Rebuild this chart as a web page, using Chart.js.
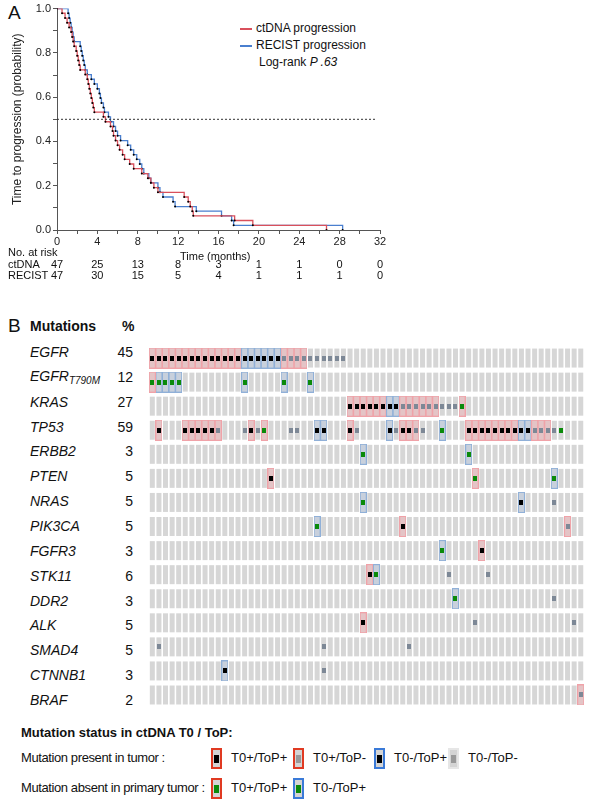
<!DOCTYPE html>
<html>
<head>
<meta charset="utf-8">
<script src="https://cdn.jsdelivr.net/npm/chart.js@4"></script>
<style>
  body { margin: 0; width: 590px; height: 800px; position: relative; font-family: "Liberation Sans", Arial, sans-serif; background: #fff; color: #111; }
  .t { position: absolute; white-space: nowrap; font-size: 11px; }
  .c { transform: translateX(-50%); }
  .s { font-size: 13px; }
  .n { letter-spacing: -0.4px; }
  canvas { position: absolute; }
  .gene { position: absolute; left: 30px; font-size: 14px; font-style: italic; transform: translateY(-50%); }
  .pct { position: absolute; left: 100px; width: 33px; text-align: right; font-size: 14px; transform: translateY(-50%); }
  .lg { position: absolute; width: 7px; height: 17px; background: #d4d4d4; border: 2px solid; }
  .lg i { position: absolute; left: 1px; top: 5px; width: 5px; height: 8px; }
</style>
</head>
<body>
<div class="t" style="left:8px;top:2px;font-size:19px">A</div>
<div class="t" style="left:8px;top:315px;font-size:19px">B</div>
<div class="t" style="left:240px;top:28px;width:12px;height:2px;background:#d9505c;font-size:0"></div>
<div class="t" style="left:240px;top:45px;width:12px;height:2px;background:#4a7fcf;font-size:0"></div>
<div class="t" style="left:256px;top:21px;font-size:12px">ctDNA progression</div>
<div class="t" style="left:256px;top:38px;font-size:12px">RECIST progression</div>
<div class="t" style="left:259px;top:55px;font-size:12px">Log-rank <i>P .63</i></div>
<canvas id="km" width="400" height="250" style="left:0;top:0;width:400px;height:250px"></canvas>
<div id="risk"></div>
<canvas id="onco" width="447" height="373" style="left:143px;top:340px;width:447px;height:373px"></canvas>
<div class="t" style="left:30px;top:318px;font-size:14px;font-weight:bold">Mutations</div>
<div class="t" style="left:122px;top:318px;font-size:14px;font-weight:bold">%</div>
<div id="labels"></div>
<div class="t" style="left:21px;top:725px;font-size:13px;font-weight:bold">Mutation status in ctDNA T0 / ToP:</div>
<div class="t s n" style="left:21px;top:750px">Mutation present in tumor :</div>
<div class="t s n" style="left:21px;top:780px">Mutation absent in primary tumor :</div>
<div class="lg" style="left:211px;top:748px;border-color:#e03a22"><i style="background:#000"></i></div>
<div class="t s" style="left:231px;top:750px">T0+/ToP+</div>
<div class="lg" style="left:293px;top:748px;border-color:#e03a22"><i style="background:#999"></i></div>
<div class="t s" style="left:313px;top:750px">T0+/ToP-</div>
<div class="lg" style="left:374px;top:748px;border-color:#3a7ad8"><i style="background:#000"></i></div>
<div class="t s" style="left:394px;top:750px">T0-/ToP+</div>
<div class="lg" style="left:448px;top:748px;border-color:#e6e6e6"><i style="background:#999"></i></div>
<div class="t s" style="left:468px;top:750px">T0-/ToP-</div>
<div class="lg" style="left:211px;top:778px;border-color:#e03a22"><i style="background:#0a8a0a"></i></div>
<div class="t s" style="left:231px;top:780px">T0+/ToP+</div>
<div class="lg" style="left:293px;top:778px;border-color:#3a7ad8"><i style="background:#0a8a0a"></i></div>
<div class="t s" style="left:313px;top:780px">T0-/ToP+</div>
<script>
// Kaplan-Meier steps (months, probability)
const ctdnaT = [0, 0.5, 0.8, 1.0, 1.2, 1.4, 1.5, 1.6, 1.7, 1.9, 2.0, 2.1, 2.2, 2.3, 2.8, 3.0, 3.1, 3.2, 3.3, 3.4, 3.5, 3.6, 3.7, 4.6, 4.8, 5.3, 5.5, 5.6, 5.8, 6.0, 6.2, 6.5, 6.7, 7.2, 7.6, 8.4, 9.0, 9.3, 9.6, 10.0, 12.6, 13.0, 13.2, 13.4, 13.5, 17.6, 19.4, 26.7];
const ctdnaS = [1, 0.979, 0.957, 0.936, 0.915, 0.894, 0.872, 0.851, 0.830, 0.809, 0.787, 0.766, 0.745, 0.723, 0.702, 0.681, 0.660, 0.638, 0.617, 0.596, 0.574, 0.553, 0.532, 0.511, 0.489, 0.468, 0.447, 0.426, 0.404, 0.383, 0.362, 0.340, 0.319, 0.298, 0.277, 0.255, 0.234, 0.213, 0.191, 0.170, 0.149, 0.128, 0.106, 0.085, 0.064, 0.043, 0.021, 0];
const recistT = [0, 1.1, 1.2, 1.3, 1.4, 1.5, 1.6, 1.7, 2.3, 2.4, 2.5, 2.6, 2.7, 2.8, 3.0, 3.4, 3.7, 4.0, 4.2, 4.3, 4.4, 4.6, 4.7, 5.1, 5.3, 5.6, 5.8, 6.0, 6.3, 7.0, 7.3, 7.6, 7.9, 8.2, 8.4, 8.6, 9.1, 9.3, 10.0, 10.2, 10.5, 11.5, 11.7, 13.8, 16.3, 17.3, 17.5, 28.3];
const recistS = [1, 0.979, 0.957, 0.936, 0.915, 0.894, 0.872, 0.851, 0.830, 0.809, 0.787, 0.766, 0.745, 0.723, 0.702, 0.681, 0.660, 0.638, 0.617, 0.596, 0.574, 0.553, 0.532, 0.511, 0.489, 0.468, 0.447, 0.426, 0.404, 0.383, 0.362, 0.340, 0.319, 0.298, 0.277, 0.255, 0.234, 0.213, 0.191, 0.170, 0.149, 0.128, 0.106, 0.085, 0.064, 0.043, 0.021, 0];
const riskTimes = [0, 4, 8, 12, 16, 20, 24, 28, 32];
const riskCtdna = [47, 25, 13, 8, 3, 1, 1, 0, 0];
const riskRecist = [47, 30, 15, 5, 4, 1, 1, 1, 0];

// Oncoprint: one char per patient column
// . none, R red/black, r red/gray, B blue/black, g gray, G red/green, H blue/green, n green
const genes = ['EGFR', 'EGFR_T790M', 'KRAS', 'TP53', 'ERBB2', 'PTEN', 'NRAS', 'PIK3CA', 'FGFR3', 'STK11', 'DDR2', 'ALK', 'SMAD4', 'CTNNB1', 'BRAF'];
const percents = [45, 12, 27, 59, 3, 5, 5, 5, 3, 6, 3, 5, 5, 3, 2];
const rows = [
  'RRRRRRRRRRRRRRBBBBBBrrrrgggggg....................................',
  'GHHHH.........H.....H...H.........................................',
  '..............................RRRRRRBBrrrrrrgggG..................',
  '.R...RRRRRr...gRgG...gg..BB...Rg....BgRRrg..H...RRRRRRRRBBrrrgn...',
  '................................H...............H.................',
  '..................R..............................G...........H....',
  '................................H.......................B....g....',
  '.........................H............R........................r..',
  '............................................H.....R...............',
  '.................................RH..........g.....g..............',
  '..............................................H..............g....',
  '................................R................g..............g.',
  '.g........................g............g..........................',
  '...........B..............g.......................................',
  '.................................................................r'
];

function steps(t, s) {
  return t.map((x, i) => ({ x: x, y: s[i] }));
}
const axisFont = { family: 'Liberation Sans', size: 11 };
new Chart(document.getElementById('km'), {
  type: 'line',
  data: {
    datasets: [
      { data: [{ x: 0, y: 0.5 }, { x: 31.6, y: 0.5 }], borderColor: '#333', borderWidth: 1, borderDash: [2, 2], pointRadius: 0 },
      { data: steps(ctdnaT, ctdnaS), stepped: 'before', borderColor: '#d9505c', borderWidth: 1.3, pointRadius: 1, pointBackgroundColor: '#000', pointBorderWidth: 0 },
      { data: steps(recistT, recistS), stepped: 'before', borderColor: '#4a7fcf', borderWidth: 1.3, pointRadius: 1, pointBackgroundColor: '#000', pointBorderWidth: 0 }
    ]
  },
  options: {
    animation: false, responsive: false,
    layout: { padding: { top: 8, right: 20, left: 10 } },
    plugins: { legend: { display: false }, tooltip: { enabled: false } },
    scales: {
      x: {
        type: 'linear', min: 0, max: 32,
        ticks: { stepSize: 2, color: '#222', font: axisFont, padding: 1, maxRotation: 0, callback: v => v % 4 === 0 ? v : '' },
        grid: { drawOnChartArea: false, tickLength: 4, color: '#555' },
        border: { color: '#555' },
        afterFit: s => { s.height = 20; }
      },
      y: {
        min: 0, max: 1,
        ticks: { stepSize: 0.1, color: '#222', font: axisFont, padding: 2, callback: v => Math.round(v * 10) % 2 === 0 ? v.toFixed(1) : '' },
        grid: { drawOnChartArea: false, tickLength: 4, color: '#555' },
        border: { color: '#555' },
        title: { display: true, text: 'Time to progression (probability)', color: '#222', font: { family: 'Liberation Sans', size: 12 }, padding: 0 },
        afterFit: s => { s.width = 47; }
      }
    }
  }
});

// risk table
let html = '<div class="t" style="left:8px;top:246px">No. at risk</div>' +
  '<div class="t" style="left:180px;top:250px">Time (months)</div>' +
  '<div class="t" style="left:8px;top:258px">ctDNA</div>' +
  '<div class="t" style="left:8px;top:269px">RECIST</div>';
riskTimes.forEach((t, i) => {
  const x = 57 + t * 323 / 32;
  html += '<div class="t c" style="left:' + x + 'px;top:258px">' + riskCtdna[i] + '</div>';
  html += '<div class="t c" style="left:' + x + 'px;top:269px">' + riskRecist[i] + '</div>';
});
document.getElementById('risk').innerHTML = html;

// gene labels
let lab = '';
genes.forEach((g, r) => {
  const y = 352 + r * 24.86;
  const name = g === 'EGFR_T790M' ? 'EGFR<sub style="font-size:10px">T790M</sub>' : g;
  lab += '<div class="gene" style="top:' + y + 'px">' + name + '</div>';
  lab += '<div class="pct" style="top:' + y + 'px">' + percents[r] + '</div>';
});
document.getElementById('labels').innerHTML = lab;

// cell images
function cellImg(fill, stroke) {
  const c = document.createElement('canvas');
  c.width = 7; c.height = 21;
  const ctx = c.getContext('2d');
  if (stroke) {
    ctx.fillStyle = stroke; ctx.fillRect(0, 0, 7, 21);
    ctx.fillStyle = fill; ctx.fillRect(1, 1, 5, 19);
  } else {
    ctx.fillStyle = fill; ctx.fillRect(1, 1, 5, 19);
  }
  return c;
}
const plainCell = cellImg('#d6d6d6', null);
const redCell = cellImg('#e4c4c6', '#f0a2a8');
const blueCell = cellImg('#c8d0dc', '#90b0d8');
function markImg(color) {
  const c = document.createElement('canvas');
  c.width = 4; c.height = 5;
  const ctx = c.getContext('2d');
  ctx.fillStyle = color; ctx.fillRect(0, 0, 4, 5);
  return c;
}
const kind = {
  R: [redCell, '#000'], r: [redCell, '#7d8896'], B: [blueCell, '#000'], g: [plainCell, '#7d8896'],
  G: [redCell, '#0a8a0a'], H: [blueCell, '#0a8a0a'], n: [plainCell, '#0a8a0a'], '.': [plainCell, null]
};
const cellSets = new Map(), markSets = new Map();
rows.forEach((row, r) => {
  row.split('').forEach((ch, c) => {
    const [img, mark] = kind[ch];
    if (!cellSets.has(img)) cellSets.set(img, []);
    cellSets.get(img).push({ x: c, y: r });
    if (mark) {
      if (!markSets.has(mark)) markSets.set(mark, []);
      markSets.get(mark).push({ x: c, y: r });
    }
  });
});
const oncoSets = [];
cellSets.forEach((pts, img) => oncoSets.push({ data: pts, pointStyle: img, pointRadius: 5, order: 2 }));
markSets.forEach((pts, color) => oncoSets.push({ data: pts, pointStyle: markImg(color), pointRadius: 3, order: 1 }));

new Chart(document.getElementById('onco'), {
  type: 'scatter',
  data: { datasets: oncoSets },
  options: {
    animation: false, responsive: false,
    layout: { padding: 0 },
    plugins: { legend: { display: false }, tooltip: { enabled: false } },
    scales: {
      x: { min: -0.5, max: 65.5, display: false },
      y: { min: -0.5, max: 14.5, reverse: true, display: false }
    }
  }
});
</script>
</body>
</html>
